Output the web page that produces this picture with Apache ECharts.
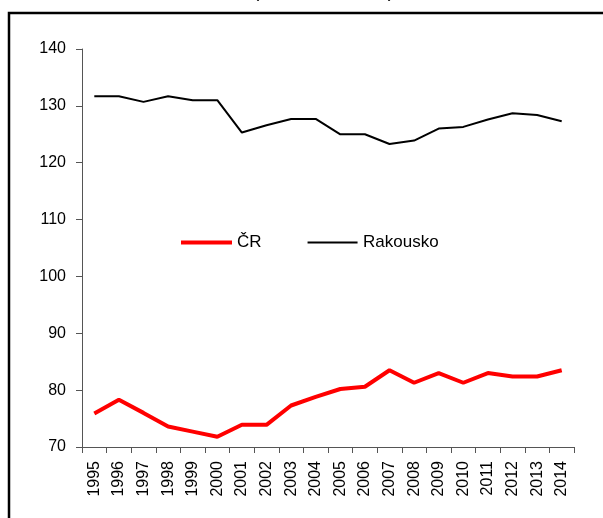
<!DOCTYPE html>
<html>
<head>
<meta charset="utf-8">
<script src="https://cdn.jsdelivr.net/npm/echarts@6/dist/echarts.min.js"></script>
<style>html,body{margin:0;padding:0;background:#fff;}#c{width:603px;height:518px;}</style>
</head>
<body>
<div id="c"></div>
<script>
var years = ['1995','1996','1997','1998','1999','2000','2001','2002','2003','2004','2005','2006','2007','2008','2009','2010','2011','2012','2013','2014'];
var cr = [75.9,78.3,76.0,73.6,72.7,71.8,73.9,73.9,77.3,78.8,80.2,80.6,83.5,81.3,83.0,81.3,83.0,82.4,82.4,83.5];
var rakousko = [131.7,131.7,130.7,131.7,131.0,131.0,125.3,126.6,127.7,127.7,125.0,125.0,123.3,123.9,126.0,126.3,127.6,128.7,128.4,127.3];
var yTicks = {min:70, max:140, interval:10};
var titleText = '(EU 27 = 100 %)';

var font = '"Liberation Sans", Arial, sans-serif';
var chart = echarts.init(document.getElementById('c'));
chart.setOption({
  animation:false,
  title:{text:titleText, left:248, top:-23, textStyle:{fontFamily:font, fontSize:19, fontWeight:'normal', color:'#000'}},
  graphic:[{type:'rect', shape:{x:9, y:13, width:700, height:700}, style:{fill:'none', stroke:'#000', lineWidth:2.5}, z:-1}],
  legend:{left:176, top:229, itemWidth:51, itemHeight:4, itemGap:46,
    textStyle:{fontFamily:font, fontSize:17, color:'#000'},
    data:[
      {name:'ČR', icon:'rect'},
      {name:'Rakousko', icon:'path://M0,0L0.01,0ZM0,1.1H50V2.9H0ZM0,4L0.01,4Z'}
    ]},
  grid:{left:82, right:29, top:49, bottom:71},
  xAxis:{type:'category', data:years, boundaryGap:true,
    axisLine:{lineStyle:{color:'#555', width:1}},
    axisTick:{show:true, length:6, alignWithLabel:false, lineStyle:{color:'#555'}},
    axisLabel:{rotate:90, interval:0, margin:14, fontFamily:font, fontSize:16, color:'#000'}},
  yAxis:{type:'value', min:yTicks.min, max:yTicks.max, interval:yTicks.interval,
    axisLine:{show:true, lineStyle:{color:'#555', width:1}},
    axisTick:{show:true, length:6, lineStyle:{color:'#555'}},
    splitLine:{show:false},
    axisLabel:{margin:16, fontFamily:font, fontSize:16, color:'#000'}},
  series:[
    {name:'ČR', type:'line', data:cr, symbol:'none', lineStyle:{color:'#ff0000', width:4}, itemStyle:{color:'#ff0000'}},
    {name:'Rakousko', type:'line', data:rakousko, symbol:'none', lineStyle:{color:'#000', width:2}, itemStyle:{color:'#000'}}
  ]
});
</script>
</body>
</html>
